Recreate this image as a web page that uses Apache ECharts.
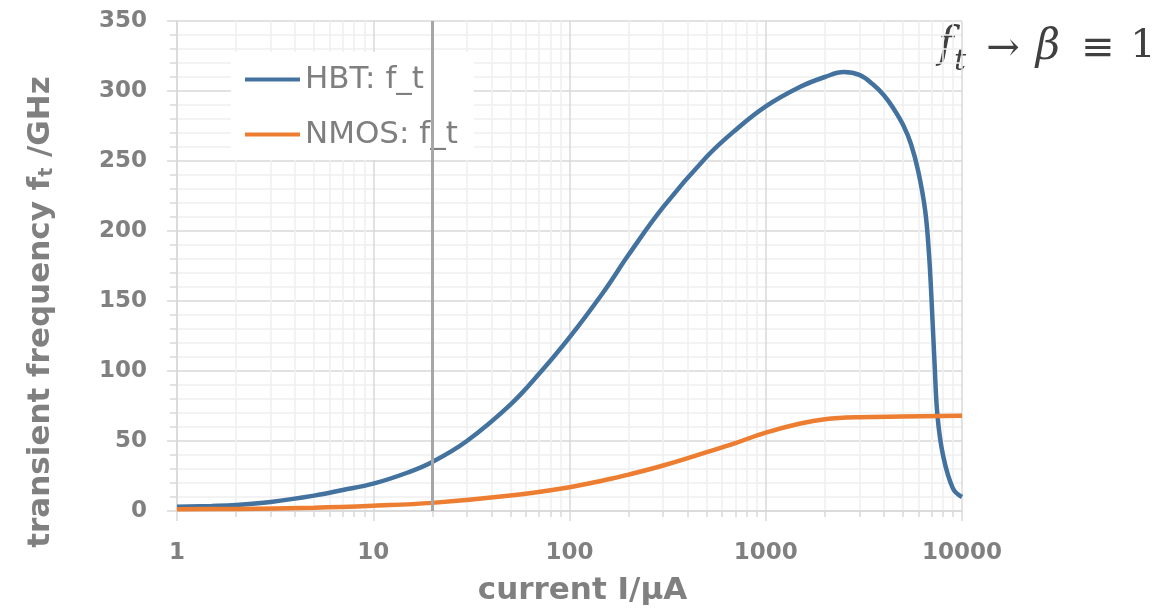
<!DOCTYPE html>
<html><head><meta charset="utf-8">
<script src="https://cdn.jsdelivr.net/npm/echarts@6/dist/echarts.min.js"></script>
<style>html,body{margin:0;padding:0;background:#fff}#c{width:1176px;height:613px}</style>
</head><body><div id="c"></div>
<script>
// current I / uA  (log axis)
const hbtCurrent = [1, 1.5, 2, 3, 5, 7, 10, 15, 20, 30, 50, 70, 100, 150, 200, 300, 500, 700, 1000, 1500, 2000, 2500, 3000, 3500, 4000, 4500, 5000, 5500, 6000, 6500, 6800, 7000, 7250, 7500, 8000, 9000, 10000];
const hbtFt      = [3, 3.6, 4.3, 6.5, 11, 15, 19.5, 27.5, 35, 50, 76, 98, 124, 157, 183, 217, 253, 272, 289, 303, 310, 313.5, 311.5, 305, 297, 287, 276, 262, 242, 214, 182, 150, 105, 68, 40, 16, 10];
const nmosCurrent = [1, 2, 5, 10, 20, 50, 100, 150, 200, 300, 500, 700, 1000, 1500, 2000, 3000, 5000, 10000];
const nmosFt      = [1.2, 1.5, 2.4, 3.8, 5.8, 11, 17, 22, 26, 32.5, 42, 48.5, 56, 62.5, 65.5, 67, 67.5, 68];
const markerCurrent = 20;
const seriesNames = ['HBT: f_t', 'NMOS: f_t'];
const xMin = 1, xMax = 10000;
const yMin = 0, yMax = 350, yInterval = 50;

const zip = (a, b) => a.map((v, i) => [v, b[i]]);
const gray = '#808080';
const ink = '#404040';
const serif = 'DejaVu Serif';
const chart = echarts.init(document.getElementById('c'));
chart.setOption({
  backgroundColor: '#fff',
  animation: false,
  grid: { left: 177, right: 214, top: 21, bottom: 102, containLabel: false },
  legend: {
    orient: 'vertical', left: 231, top: 52,
    padding: [12, 16, 10, 14],
    backgroundColor: '#fff',
    icon: 'rect', itemWidth: 55, itemHeight: 4, itemGap: 24,
    textStyle: { fontFamily: 'DejaVu Sans', fontSize: 31, color: '#7f7f7f', lineHeight: 31 },
    data: seriesNames
  },
  xAxis: {
    type: 'log', logBase: 10, min: xMin, max: xMax,
    name: 'current I/µA', nameLocation: 'middle', nameGap: 64,
    nameTextStyle: { fontFamily: 'DejaVu Sans', fontWeight: 'bold', fontSize: 31, color: gray, padding: [0, 0, 0, 26] },
    axisLine: { show: true, lineStyle: { color: '#d9d9d9', width: 1.5 } },
    axisTick: { show: true, length: 10, lineStyle: { color: '#d9d9d9', width: 1.5 } },
    minorTick: { show: true, splitNumber: 9, length: 6, lineStyle: { color: '#d9d9d9', width: 1.5 } },
    splitLine: { show: true, lineStyle: { color: '#d9d9d9', width: 1.5 } },
    minorSplitLine: { show: true, lineStyle: { color: '#f0f0f0', width: 1.5 } },
    axisLabel: { fontFamily: 'DejaVu Sans', fontWeight: 'bold', fontSize: 23, color: gray, margin: 31,
      formatter: v => String(v) }
  },
  yAxis: {
    type: 'value', min: yMin, max: yMax, interval: yInterval,
    name: '{a|transient frequency f}{s|t}{a| /GHz}', nameLocation: 'middle', nameGap: 120, nameRotate: 90,
    nameTextStyle: { padding: [0, 92, 0, 0], rich: {
      a: { fontFamily: 'DejaVu Sans', fontWeight: 'bold', fontSize: 31, color: gray },
      s: { fontFamily: 'DejaVu Sans', fontWeight: 'bold', fontSize: 19, color: gray, padding: [14, 0, 0, 0] }
    } },
    axisLine: { show: true, lineStyle: { color: '#d9d9d9', width: 1.5 } },
    axisTick: { show: true, length: 10, lineStyle: { color: '#d9d9d9', width: 1.5 } },
    minorTick: { show: true, splitNumber: 5, length: 7, lineStyle: { color: '#d9d9d9', width: 1.5 } },
    splitLine: { show: true, lineStyle: { color: '#d9d9d9', width: 1.5 } },
    minorSplitLine: { show: true, lineStyle: { color: '#f0f0f0', width: 1.5 } },
    axisLabel: { fontFamily: 'DejaVu Sans', fontWeight: 'bold', fontSize: 23, color: gray, margin: 30 }
  },
  series: [
    { name: seriesNames[0], type: 'line', data: zip(hbtCurrent, hbtFt), smooth: 0.4, showSymbol: false,
      lineStyle: { color: '#44729f', width: 4.5 }, itemStyle: { color: '#44729f' }, z: 3,
      markLine: { silent: true, symbol: 'none', label: { show: false },
        lineStyle: { color: '#a6a6a6', width: 3, type: 'solid' },
        data: [{ xAxis: markerCurrent }] } },
    { name: seriesNames[1], type: 'line', data: zip(nmosCurrent, nmosFt), smooth: 0.4, showSymbol: false,
      lineStyle: { color: '#ed7d31', width: 4.5 }, itemStyle: { color: '#ed7d31' }, z: 3 }
  ],
  graphic: [
    { type: 'text', x: 946, y: 46, style: { text: 'f', font: 'italic 42px "' + serif + '"', fill: ink, align: 'center', verticalAlign: 'middle' } },
    { type: 'text', x: 960, y: 62, style: { text: 't', font: 'italic 30px "' + serif + '"', fill: ink, align: 'center', verticalAlign: 'middle' } },
    { type: 'text', x: 1003, y: 50, style: { text: '→', font: '40px "' + serif + '"', fill: ink, align: 'center', verticalAlign: 'middle' } },
    { type: 'text', x: 1048, y: 48, style: { text: 'β', font: 'italic 42px "' + serif + '"', fill: ink, align: 'center', verticalAlign: 'middle' } },
    { type: 'text', x: 1098, y: 50, style: { text: '≡', font: '40px "' + serif + '"', fill: ink, align: 'center', verticalAlign: 'middle' } },
    { type: 'text', x: 1143, y: 47, style: { text: '1', font: '40px "' + serif + '"', fill: ink, align: 'center', verticalAlign: 'middle' } }
  ]
});
</script></body></html>
